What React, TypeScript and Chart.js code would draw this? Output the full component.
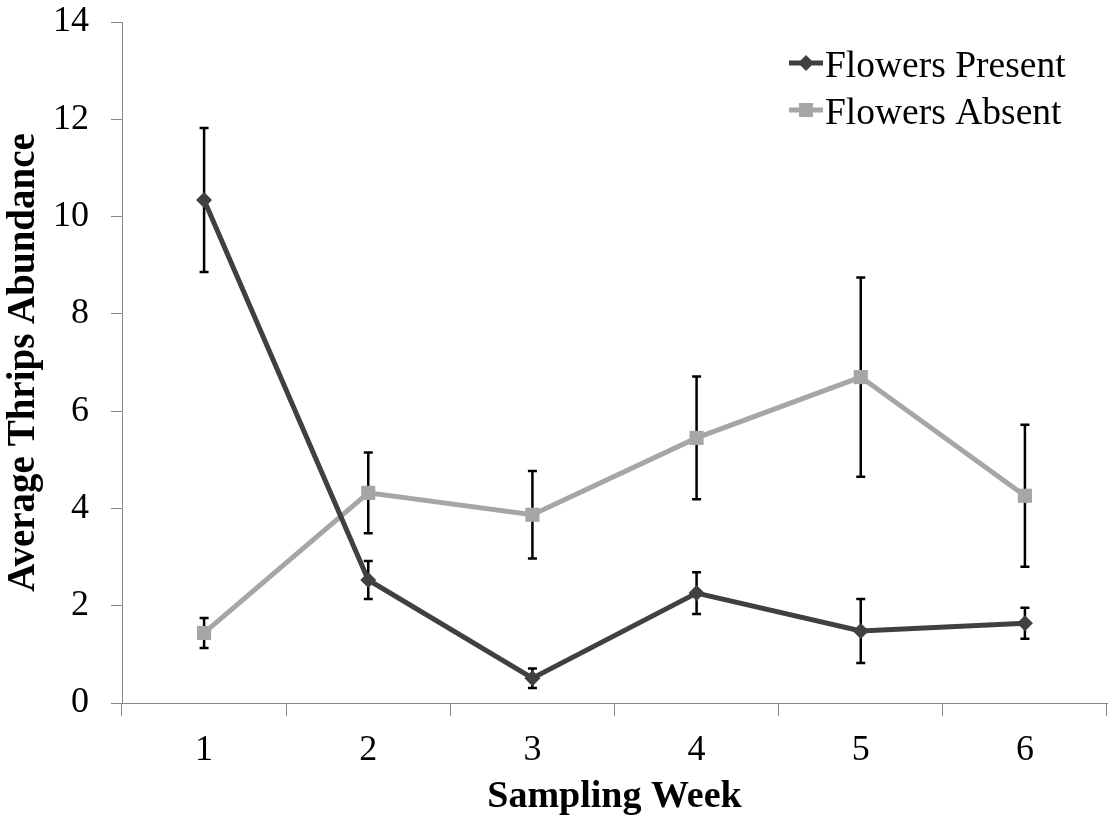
import React, { useEffect, useRef } from "react";
import { Chart, registerables } from "chart.js";

Chart.register(...registerables);

const weeks = ["1", "2", "3", "4", "5", "6"];
const presentMeans = [10.34, 2.53, 0.51, 2.26, 1.48, 1.64];
const presentErrors = [1.48, 0.39, 0.2, 0.43, 0.66, 0.32];
const absentMeans = [1.44, 4.32, 3.87, 5.45, 6.7, 4.26];
const absentErrors = [0.31, 0.83, 0.9, 1.26, 2.05, 1.46];
const seriesLabels = ["Flowers Present", "Flowers Absent"];
const yTicks = [0, 2, 4, 6, 8, 10, 12, 14];

const FONT = "'Liberation Serif', 'Times New Roman', serif";
const DARK = "#404040";
const LIGHT = "#a6a6a6";
const AXIS = "#868686";

const errorSets = [presentErrors, absentErrors];

const errorBarPlugin = {
  id: "errorBars",
  beforeDatasetsDraw(chart: any) {
    const ctx = chart.ctx;
    const yScale = chart.scales.y;
    ctx.save();
    ctx.strokeStyle = "#000";
    ctx.lineWidth = 2.5;
    chart.data.datasets.forEach((ds: any, di: number) => {
      const meta = chart.getDatasetMeta(di);
      const errs = errorSets[di];
      meta.data.forEach((pt: any, i: number) => {
        const v = ds.data[i];
        const e = errs[i];
        const x = pt.x;
        const yTop = yScale.getPixelForValue(v + e);
        const yBot = yScale.getPixelForValue(v - e);
        ctx.beginPath();
        ctx.moveTo(x, yTop);
        ctx.lineTo(x, yBot);
        ctx.moveTo(x - 4.5, yTop);
        ctx.lineTo(x + 4.5, yTop);
        ctx.moveTo(x - 4.5, yBot);
        ctx.lineTo(x + 4.5, yBot);
        ctx.stroke();
      });
    });
    ctx.restore();
  },
};

const legendPlugin = {
  id: "insideLegend",
  afterDraw(chart: any) {
    const ctx = chart.ctx;
    const area = chart.chartArea;
    const textX = area.right - 282;
    const rows = [67, 114];
    ctx.save();
    chart.data.datasets.forEach((ds: any, di: number) => {
      const ty = rows[di];
      const sy = ty - 4;
      const x0 = textX - 36;
      const x1 = textX - 2;
      const cx = (x0 + x1) / 2;
      ctx.strokeStyle = ds.borderColor;
      ctx.lineWidth = 5;
      ctx.beginPath();
      ctx.moveTo(x0, sy);
      ctx.lineTo(x1, sy);
      ctx.stroke();
      ctx.fillStyle = ds.borderColor;
      ctx.beginPath();
      if (ds.pointStyle === "rectRot") {
        const r = 8;
        ctx.moveTo(cx, sy - r);
        ctx.lineTo(cx + r, sy);
        ctx.lineTo(cx, sy + r);
        ctx.lineTo(cx - r, sy);
        ctx.closePath();
      } else {
        ctx.rect(cx - 7, sy - 7, 14, 14);
      }
      ctx.fill();
      ctx.fillStyle = "#000";
      ctx.font = `37.5px ${FONT}`;
      ctx.textAlign = "left";
      ctx.textBaseline = "middle";
      ctx.fillText(ds.label, textX, ty);
    });
    ctx.restore();
  },
};

export default function App() {
  const ref = useRef<HTMLCanvasElement | null>(null);

  useEffect(() => {
    if (!ref.current) return;
    const chart = new Chart(ref.current, {
      type: "line",
      data: {
        labels: weeks,
        datasets: [
          {
            label: seriesLabels[0],
            data: presentMeans,
            borderColor: DARK,
            backgroundColor: DARK,
            borderWidth: 5,
            pointStyle: "rectRot",
            pointRadius: 8,
            pointBorderWidth: 0,
            pointBackgroundColor: DARK,
            tension: 0,
          },
          {
            label: seriesLabels[1],
            data: absentMeans,
            borderColor: LIGHT,
            backgroundColor: LIGHT,
            borderWidth: 5,
            pointStyle: "rect",
            pointRadius: 10,
            pointBorderWidth: 0,
            pointBackgroundColor: LIGHT,
            tension: 0,
          },
        ],
      },
      options: {
        responsive: false,
        animation: false,
        layout: { autoPadding: false, padding: { top: 0, right: 0, left: 0, bottom: 0 } },
        plugins: {
          legend: { display: false },
          tooltip: { enabled: false },
        },
        scales: {
          x: {
            type: "category",
            offset: true,
            grid: {
              offset: true,
              drawOnChartArea: false,
              drawTicks: true,
              tickLength: 13,
              color: AXIS,
              lineWidth: 1,
            },
            border: { color: AXIS, width: 1 },
            ticks: {
              color: "#000",
              font: { family: FONT, size: 36 },
              padding: 13,
              maxRotation: 0,
            },
            title: {
              display: true,
              text: "Sampling Week",
              color: "#000",
              font: { family: FONT, size: 38, weight: "bold" },
              padding: { top: 0, bottom: 3 },
            },
            afterFit: (s: any) => {
              s.height = 120;
              s.paddingLeft = 0;
              s.paddingRight = 3;
            },
          },
          y: {
            min: 0,
            max: 14,
            afterBuildTicks: (s: any) => {
              s.ticks = yTicks.map((v) => ({ value: v }));
            },
            grid: {
              drawOnChartArea: false,
              drawTicks: true,
              tickLength: 11,
              color: AXIS,
              lineWidth: 1,
            },
            border: { color: AXIS, width: 1 },
            ticks: {
              color: "#000",
              font: { family: FONT, size: 36 },
              padding: 22,
            },
            title: {
              display: true,
              text: "Average Thrips Abundance",
              color: "#000",
              font: { family: FONT, size: 39, weight: "bold" },
              padding: { top: 1, bottom: 0 },
            },
            afterFit: (s: any) => {
              s.width = 122;
              s.paddingTop = 22;
              s.paddingBottom = 0;
            },
          },
        },
      },
      plugins: [errorBarPlugin, legendPlugin],
    } as any);
    return () => chart.destroy();
  }, []);

  return (
    <div style={{ position: "absolute", left: 0, top: 0, width: 1110, height: 823, background: "#fff" }}>
      <canvas ref={ref} width={1110} height={823} style={{ display: "block" }} />
    </div>
  );
}
